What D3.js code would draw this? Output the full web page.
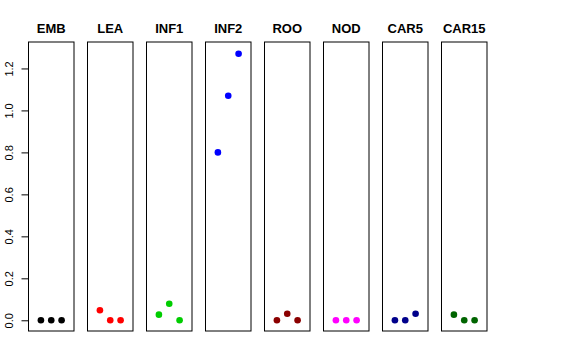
<!DOCTYPE html>
<html>
<head>
<meta charset="utf-8">
<script src="https://cdn.jsdelivr.net/npm/d3@7"></script>
<style>
  body { margin: 0; background: #fff; }
  text { font-family: "Liberation Sans", Arial, Helvetica, sans-serif; }
</style>
</head>
<body>
<div id="chart"></div>
<script>
// tissue panels and their colours
var tissues = ['EMB', 'LEA', 'INF1', 'INF2', 'ROO', 'NOD', 'CAR5', 'CAR15'];
var colors = ['#000000', '#FF0000', '#00CD00', '#0000FF', '#8B0000', '#FF00FF', '#00008B', '#006400'];

// three replicates per tissue
var values = [
	[0, 0, 0],
	[0.048, 0, 0],
	[0.027, 0.079, 0],
	[0.80, 1.07, 1.27],
	[0, 0.031, 0],
	[0, 0, 0],
	[0, 0, 0.031],
	[0.027, 0, 0]
];
var replicates = [1, 2, 3];
var yTicks = [0, 0.2, 0.4, 0.6, 0.8, 1.0, 1.2];

var width = 576, height = 360;

var svg = d3.select('#chart').append('svg')
	.attr('width', width)
	.attr('height', height);

var panel = d3.scaleBand()
	.domain(tissues)
	.range([28.5, 487])
	.paddingInner(0.2288)
	.paddingOuter(0);

var y = d3.scaleLinear()
	.domain([-0.051, 1.326])
	.range([331, 42]);

var x = d3.scaleLinear()
	.domain([-0.2, 4.2])
	.range([0, panel.bandwidth()]);

// y axis on the first panel
var yAxis = d3.axisLeft(y)
	.tickValues(yTicks)
	.tickSize(7)
	.tickFormat(d3.format('.1f'));

var ax = svg.append('g')
	.attr('transform', 'translate(' + panel(tissues[0]) + ',0)')
	.call(yAxis);
ax.select('.domain').remove();
ax.selectAll('.tick line').attr('stroke', '#000');
ax.selectAll('.tick text')
	.attr('x', 0).attr('dy', 0)
	.attr('transform', 'translate(-16,0) rotate(-90)')
	.attr('text-anchor', 'middle')
	.style('font-size', '11px')
	.attr('fill', '#000');

var panels = svg.selectAll('g.panel')
	.data(tissues)
	.enter().append('g')
	.attr('class', 'panel')
	.attr('transform', function(d){ return 'translate(' + panel(d) + ',0)'; });

panels.append('rect')
	.attr('x', 0)
	.attr('y', y.range()[1])
	.attr('width', panel.bandwidth())
	.attr('height', y.range()[0] - y.range()[1])
	.attr('fill', 'none')
	.attr('stroke', '#000')
	.attr('stroke-width', 1);

panels.append('text')
	.attr('x', panel.bandwidth() / 2)
	.attr('y', 33)
	.attr('text-anchor', 'middle')
	.style('font-size', '13px')
	.style('font-weight', 'bold')
	.text(function(d){ return d; });

panels.selectAll('circle')
	.data(function(d, i){
		return values[i].map(function(v, j){ return {rep: replicates[j], v: v, c: colors[i]}; });
	})
	.enter().append('circle')
	.attr('cx', function(d){ return x(d.rep); })
	.attr('cy', function(d){ return y(d.v); })
	.attr('r', 3.3)
	.attr('fill', function(d){ return d.c; });
</script>
</body>
</html>
